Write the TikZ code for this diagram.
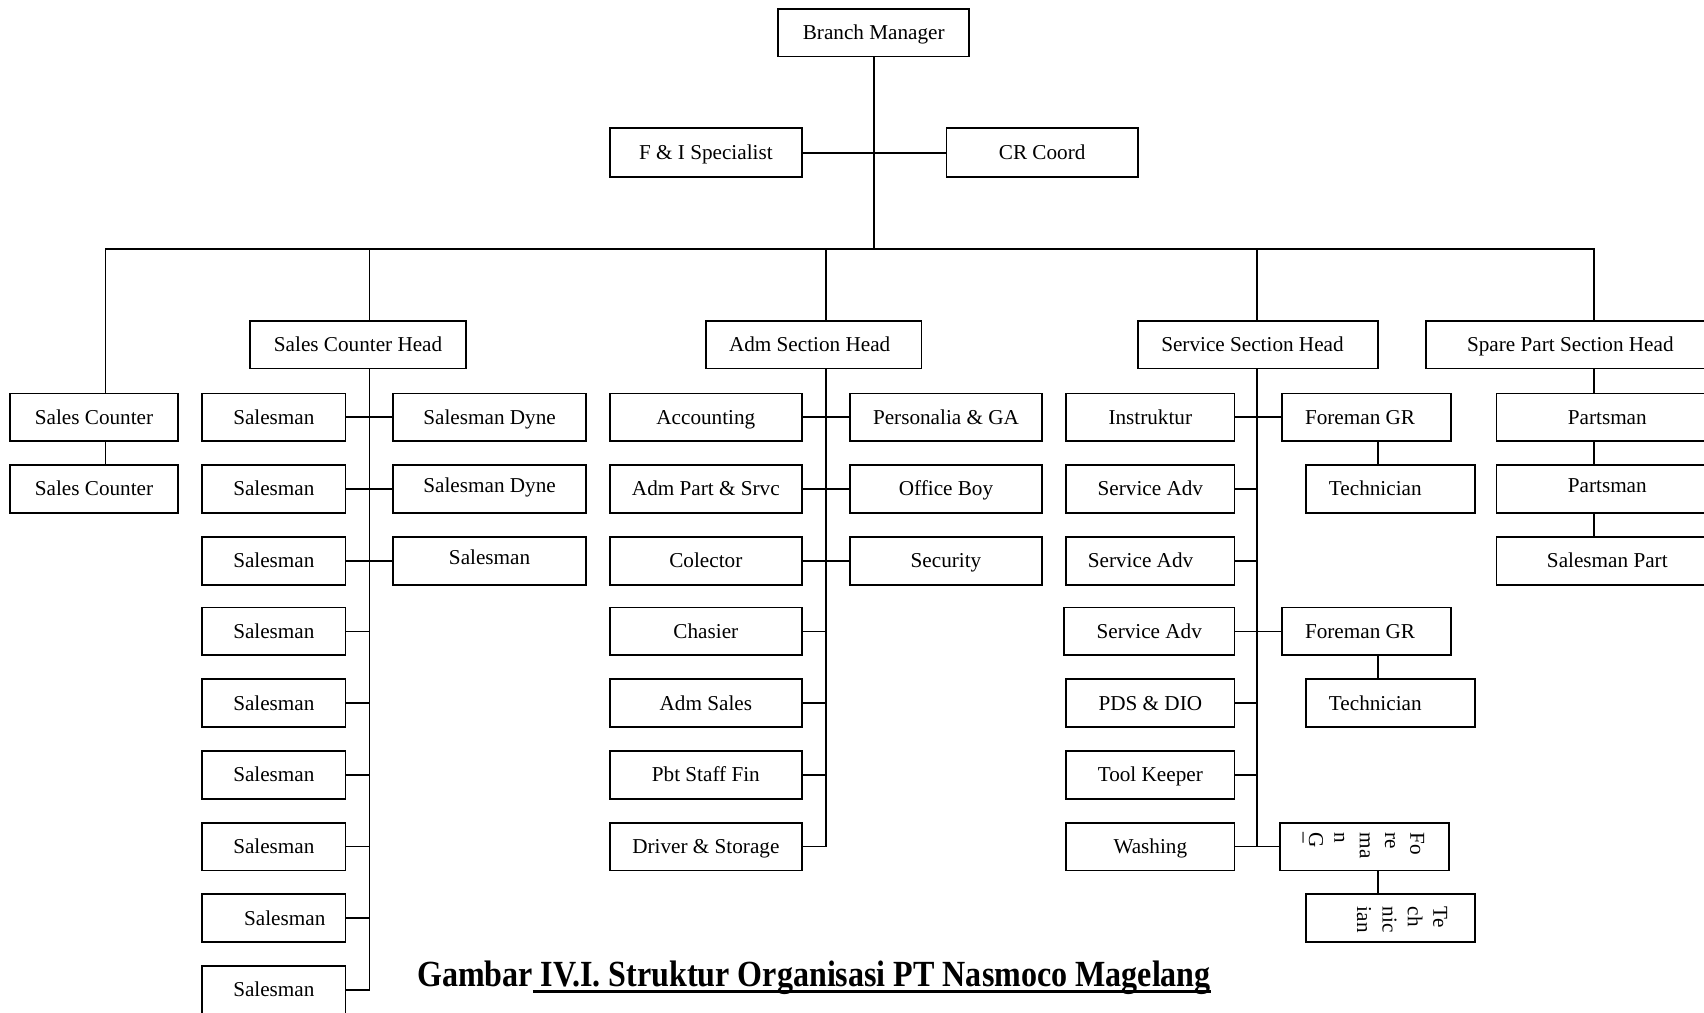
\documentclass[tikz,border=0pt]{standalone}
\usepackage{fontspec}
\setmainfont{Liberation Serif}

% box with its label: \bx[label options]{name}{x1}{y1}{x2}{y2}{text}
\newcommand\bx[7][]{%
  \node[box, minimum width={(#5-#3)*0.6pt}, minimum height={(#6-#4)*0.6pt}] (#2) at ({(#3+#5)/2},{(#4+#6)/2}) {};
  \node[lbl,#1] at (#2.center) {#7};}
% underline bar under a piece of the caption
\newcommand\ulbar[1]{\setbox0\hbox{#1}\rlap{\rule[-3pt]{\wd0}{1.6pt}}\box0}

\begin{document}
\begin{tikzpicture}[x=0.6pt,y=-0.6pt,
  box/.style={draw, line width=1pt, rectangle, inner sep=0pt},
  lbl/.style={font=\fontsize{11.7}{14}\selectfont, inner sep=0pt, text height=8.4pt, text depth=2.6pt, yshift=-0.9pt},
  vlbl/.style={font=\fontsize{11.7}{14}\selectfont, inner sep=0pt, rotate=-90, anchor=north west, align=left},
  link/.style={line width=1pt}]
\useasboundingbox (0,0) rectangle (1568,932);
\clip (0,0) rectangle (1568,932);

% top level
\bx{bm}{716}{8}{892}{52}{Branch Manager}
\bx{fi}{561}{118}{738}{163}{F \& I Specialist}
\bx{cr}{871}{118}{1047}{163}{CR Coord}

% section heads
\bx{sch}{230}{295}{429}{339}{Sales Counter Head}
\bx[xshift=-2.4pt]{ash}{650}{295}{848}{339}{Adm Section Head}
\bx[xshift=-3pt]{ssh}{1047}{295}{1268}{339}{Service Section Head}
\bx[xshift=-13.2pt]{sp}{1312}{295}{1622}{339}{Spare Part Section Head}

% sales counter
\bx{sc1}{9}{362}{164}{406}{Sales Counter}
\bx{sc2}{9}{428}{164}{472}{Sales Counter}

% salesmen
\bx{sm1}{186}{362}{318}{406}{Salesman}
\bx{sm2}{186}{428}{318}{472}{Salesman}
\bx{sm3}{186}{494}{318}{538}{Salesman}
\bx{sm4}{186}{559}{318}{603}{Salesman}
\bx{sm5}{186}{625}{318}{669}{Salesman}
\bx{sm6}{186}{691}{318}{735}{Salesman}
\bx{sm7}{186}{757}{318}{801}{Salesman}
\bx[xshift=6pt]{sm8}{186}{823}{318}{867}{Salesman}
\bx{sm9}{186}{889}{318}{933}{Salesman}
\bx{sd1}{362}{362}{539}{406}{Salesman Dyne}
\bx[yshift=1.8pt]{sd2}{362}{428}{539}{472}{Salesman Dyne}
\bx[yshift=1.8pt]{rs3}{362}{494}{539}{538}{Salesman}

% administration
\bx{acc}{561}{362}{738}{406}{Accounting}
\bx{aps}{561}{428}{738}{472}{Adm Part \& Srvc}
\bx{col}{561}{494}{738}{538}{Colector}
\bx{cha}{561}{559}{738}{603}{Chasier}
\bx{ads}{561}{625}{738}{669}{Adm Sales}
\bx{pbt}{561}{691}{738}{735}{Pbt Staff Fin}
\bx{drv}{561}{757}{738}{801}{Driver \& Storage}
\bx{pga}{782}{362}{959}{406}{Personalia \& GA}
\bx{ob}{782}{428}{959}{472}{Office Boy}
\bx{sec}{782}{494}{959}{538}{Security}

% service
\bx{ins}{981}{362}{1136}{406}{Instruktur}
\bx{sv1}{981}{428}{1136}{472}{Service Adv}
\bx[xshift=-5.4pt]{sv2}{981}{494}{1136}{538}{Service Adv}
\bx{sv3}{979}{559}{1136}{603}{Service Adv}
\bx{pds}{981}{625}{1136}{669}{PDS \& DIO}
\bx{tk}{981}{691}{1136}{735}{Tool Keeper}
\bx{wsh}{981}{757}{1136}{801}{Washing}
\bx[xshift=-3.6pt]{fg1}{1180}{362}{1335}{406}{Foreman GR}
\bx[xshift=-8.4pt]{te1}{1202}{428}{1357}{472}{Technician}
\bx[xshift=-3.6pt]{fg2}{1180}{559}{1335}{603}{Foreman GR}
\bx[xshift=-8.4pt]{te2}{1202}{625}{1357}{669}{Technician}
\bx{fg3}{1178}{757}{1333}{801}{}
\node[vlbl] at (1311,766) {Fo\\re\\ma\\n\\G\\[-12pt]\_};
\bx{te3}{1202}{823}{1357}{867}{}
\node[vlbl] at (1332,834) {Te\\ch\\nic\\ian};

% spare parts
\bx{pm1}{1377}{362}{1581}{406}{Partsman}
\bx[yshift=1.8pt]{pm2}{1377}{428}{1581}{472}{Partsman}
\bx{spt}{1377}{494}{1581}{538}{Salesman Part}

% trunk lines
\coordinate (bus) at (0,229);
\coordinate (xa) at (97,0);
\coordinate (xb) at (340,0);
\coordinate (xc) at (760,0);
\coordinate (xd) at (1157,0);
\coordinate (xe) at (1467,0);
\coordinate (xf) at (1268,0);

\draw[link] (bm.south) -- (bm.south |- bus);
\draw[link] (fi.east) -- (cr.west);
\draw[link] (sc1.north -| xa) -- (xa |- bus) -- (xe |- bus) -- (sp.north -| xe);
\draw[link] (xb |- bus) -- (sch.north -| xb);
\draw[link] (xc |- bus) -- (ash.north -| xc);
\draw[link] (xd |- bus) -- (ssh.north -| xd);
\draw[link] (sc1.south -| xa) -- (sc2.north -| xa);

% sales branch
\draw[link] (sch.south -| xb) -- (sm9.east -| xb) -- (sm9.east);
\draw[link] (sm1.east) -- (sd1.west);
\draw[link] (sm2.east) -- (sd2.west);
\draw[link] (sm3.east) -- (rs3.west);
\foreach \k in {4,...,8} \draw[link] (sm\k.east) -- (sm\k.east -| xb);

% administration branch
\draw[link] (ash.south -| xc) -- (drv.east -| xc) -- (drv.east);
\draw[link] (acc.east) -- (pga.west);
\draw[link] (aps.east) -- (ob.west);
\draw[link] (col.east) -- (sec.west);
\foreach \n in {cha,ads,pbt} \draw[link] (\n.east) -- (\n.east -| xc);

% service branch
\draw[link] (ssh.south -| xd) -- (wsh.east -| xd);
\draw[link] (ins.east) -- (fg1.west);
\draw[link] (sv3.east) -- (fg2.west);
\draw[link] (wsh.east) -- (fg3.west);
\foreach \n in {sv1,sv2,pds,tk} \draw[link] (\n.east) -- (\n.east -| xd);
\draw[link] (fg1.south -| xf) -- (te1.north -| xf);
\draw[link] (fg2.south -| xf) -- (te2.north -| xf);
\draw[link] (fg3.south -| xf) -- (te3.north -| xf);

% spare part branch
\draw[link] (sp.south -| xe) -- (pm1.north -| xe);
\draw[link] (pm1.south -| xe) -- (pm2.north -| xe);
\draw[link] (pm2.south -| xe) -- (spt.north -| xe);

% caption
\node[anchor=base, inner sep=0pt] (cap) at (749,908)
  {\scalebox{1}[1.15]{\fontsize{17.7}{20}\selectfont\bfseries Gambar\ulbar{ IV.I. Struktur Organisasi PT Nasmoco Magelang}}};
\end{tikzpicture}
\end{document}
